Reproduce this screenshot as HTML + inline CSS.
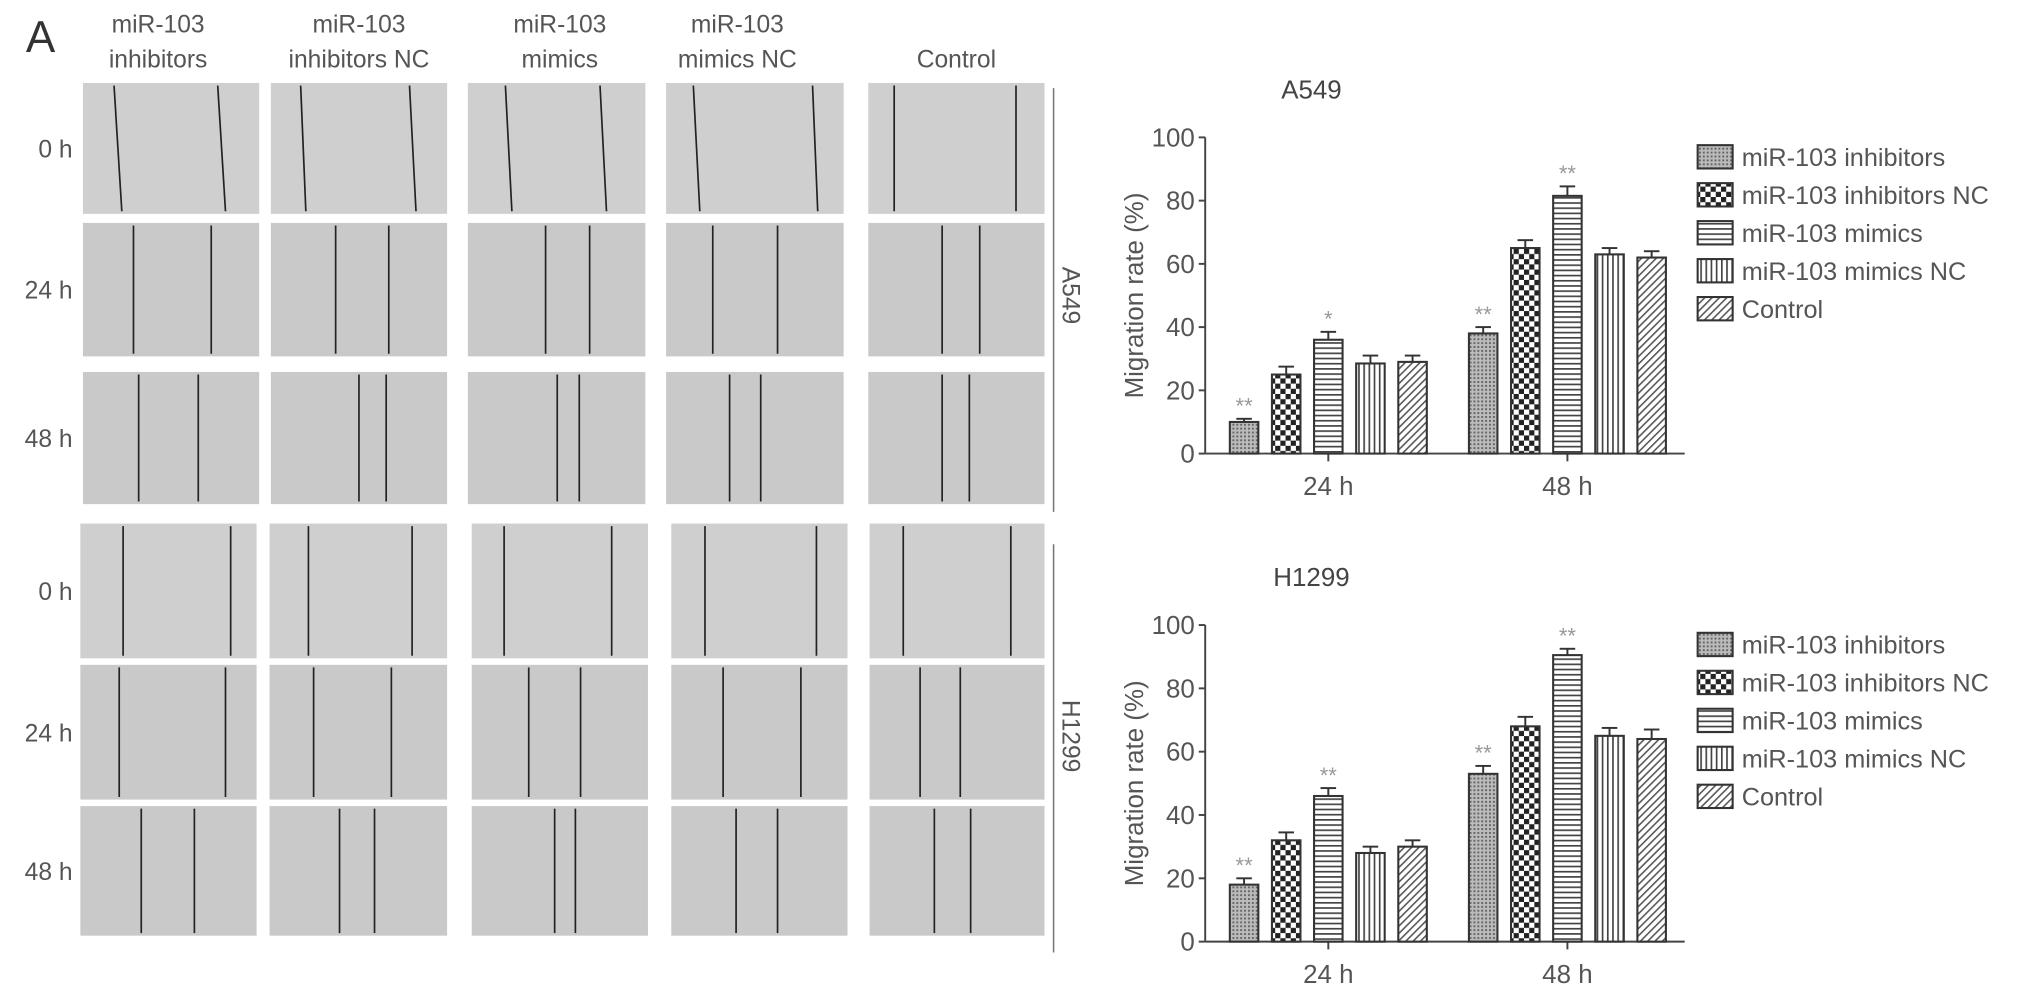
<!DOCTYPE html>
<html><head><meta charset="utf-8"><style>
html,body{margin:0;padding:0;background:#fff;}
svg{display:block;font-family:"Liberation Sans",sans-serif;}
</style></head><body>
<svg width="2032" height="994" viewBox="0 0 1568 767" xmlns="http://www.w3.org/2000/svg">
<defs>
<pattern id="p0" width="3" height="3" patternUnits="userSpaceOnUse"><rect width="3" height="3" fill="#bbb"/><rect width="1.5" height="1.5" fill="#666"/></pattern>
<pattern id="p1" width="8" height="8" patternUnits="userSpaceOnUse"><rect width="8" height="8" fill="#fff"/><rect width="4" height="4" fill="#222"/><rect x="4" y="4" width="4" height="4" fill="#222"/></pattern>
<pattern id="p2" width="4" height="4" patternUnits="userSpaceOnUse"><rect width="4" height="4" fill="#fff"/><rect width="4" height="1.3" fill="#444"/></pattern>
<pattern id="p3" width="4" height="4" patternUnits="userSpaceOnUse"><rect width="4" height="4" fill="#fff"/><rect width="1.3" height="4" fill="#444"/></pattern>
<pattern id="p4" width="4" height="4" patternUnits="userSpaceOnUse" patternTransform="rotate(45)"><rect width="4" height="4" fill="#fff"/><rect width="1.2" height="4" fill="#555"/></pattern>
</defs>
<text x="20" y="40" font-size="34" fill="#333">A</text>
<g id="micro"></g>
<g id="chartA"></g>
<g id="chartH"></g>
</svg>
<script>
const NS='http://www.w3.org/2000/svg';
function mk(p,tag,attrs,txt){const e=document.createElementNS(NS,tag);for(const k in attrs)e.setAttribute(k,attrs[k]);if(txt!=null)e.textContent=txt;p.appendChild(e);return e;}
// ---- microscopy grid ----
const colHeads=[["miR-103","inhibitors"],["miR-103","inhibitors NC"],["miR-103","mimics"],["miR-103","mimics NC"],["","Control"]];
const headX=[122,277,432,569,738];
const rowLabels=["0 h","24 h","48 h","0 h","24 h","48 h"];
const rowY=[[64,165],[172,275],[287,389],[404,508],[513,617],[622,722]];
const colXa=[[64,200],[209,345],[361,498],[514,651],[670,806]];
const colXb=[[62,198],[208,345],[364,500],[518,654],[671,806]];
const scratch=[
[[88,94,168,174],[232,236,316,321],[390,395,463,468],[535,540,627,631],[690,690,784,784]],
[[103,103,163,163],[259,259,300,300],[421,421,455,455],[550,550,600,600],[727,727,756,756]],
[[107,107,153,153],[277,277,298,298],[430,430,447,447],[563,563,587,587],[727,727,748,748]],
[[95,95,178,178],[238,238,318,318],[389,389,472,472],[544,544,630,630],[697,697,780,780]],
[[92,92,174,174],[242,242,302,302],[408,408,448,448],[558,558,618,618],[710,710,741,741]],
[[109,109,150,150],[262,262,289,289],[428,428,444,444],[568,568,600,600],[721,721,749,749]]];
const micro=document.getElementById('micro');
colHeads.forEach((h,i)=>{
  const t=mk(micro,'text',{x:headX[i],y:25,'font-size':19,fill:'#555','text-anchor':'middle'},h[0]);
  
  
  const t2=mk(micro,'text',{x:headX[i],y:52,'font-size':19,fill:'#555','text-anchor':'middle'},h[1]);
  
  
});
rowY.forEach((ry,r)=>{
  const cols=r<3?colXa:colXb;
  const lb=mk(micro,'text',{x:56,y:(ry[0]+ry[1])/2+7,'font-size':19,fill:'#555','text-anchor':'end'},rowLabels[r]);
  
  
  cols.forEach((c,i)=>{
    const rc=mk(micro,'rect',{x:c[0],y:ry[0],width:c[1]-c[0],height:ry[1]-ry[0],fill:(r===0||r===3)?'#cfcfcf':'#c9c9c9'});
    
    
    const s=scratch[r][i];
    mk(micro,'line',{x1:s[0],y1:ry[0]+2,x2:s[1],y2:ry[1]-2,stroke:'#222','stroke-width':1.3});
    mk(micro,'line',{x1:s[2],y1:ry[0]+2,x2:s[3],y2:ry[1]-2,stroke:'#222','stroke-width':1.3});
  });
});
mk(micro,'line',{x1:813,y1:68,x2:813,y2:395,stroke:'#777','stroke-width':1.2});
mk(micro,'line',{x1:813,y1:420,x2:813,y2:735,stroke:'#777','stroke-width':1.2});
const la=mk(micro,'text',{x:0,y:0,'font-size':19,fill:'#555','text-anchor':'middle',transform:'translate(820,228) rotate(90)'},'A549');


const lh=mk(micro,'text',{x:0,y:0,'font-size':19,fill:'#555','text-anchor':'middle',transform:'translate(820,568) rotate(90)'},'H1299');



// ---- chart data ----
const groups=["24 h","48 h"];
const seriesNames=["miR-103 inhibitors","miR-103 inhibitors NC","miR-103 mimics","miR-103 mimics NC","Control"];
const yTicks=[0,20,40,60,80,100];
const a549Values=[[10,25,36,28.5,29],[38,65,81.5,63,62]];
const a549Errors=[[1,2.5,2.5,2.5,2],[2,2.5,3,2,2]];
const a549Stars=[["**","","*","",""],["**","","**","",""]];
const h1299Values=[[18,32,46,28,30],[53,68,90.5,65,64]];
const h1299Errors=[[2,2.5,2.5,2,2],[2.5,3,2,2.5,3]];
const h1299Stars=[["**","","**","",""],["**","","**","",""]];

function drawChart(g,title,values,errors,stars,y0,y100){
  const ax=930, axEnd=1300;
  const y=v=>y0+(y100-y0)*v/100;
  const groupStart=[960,1144.5], step=32.5, bw=22;
  const t=mk(g,'text',{x:1012,y:y100-30,'font-size':20,fill:'#444','text-anchor':'middle'},title);
  
  
  const yt=mk(g,'text',{x:0,y:0,'font-size':20,fill:'#555','text-anchor':'middle',transform:`translate(882,${(y0+y100)/2}) rotate(-90)`},'Migration rate (%)');
  
  
  mk(g,'line',{x1:ax,y1:y(0),x2:ax,y2:y(100),stroke:'#444','stroke-width':1.5});
  mk(g,'line',{x1:ax,y1:y(0),x2:axEnd,y2:y(0),stroke:'#444','stroke-width':1.5});
  yTicks.forEach(v=>{
    mk(g,'line',{x1:ax-5,y1:y(v),x2:ax,y2:y(v),stroke:'#444','stroke-width':1.5});
    const tl=mk(g,'text',{x:ax-8,y:y(v)+7,'font-size':20,fill:'#555','text-anchor':'end'},String(v));
    
    
  });
  groups.forEach((gn,gi)=>{
    const cx=groupStart[gi]+2*step;
    mk(g,'line',{x1:cx,y1:y(0),x2:cx,y2:y(0)+6,stroke:'#444','stroke-width':1.5});
    const xl=mk(g,'text',{x:cx,y:y(0)+32,'font-size':20,fill:'#555','text-anchor':'middle'},gn);
    
    
    values[gi].forEach((v,si)=>{
      const bx=groupStart[gi]+si*step;
      const top=y(v+errors[gi][si]);
      mk(g,'line',{x1:bx,y1:y(v),x2:bx,y2:top,stroke:'#333','stroke-width':1.5});
      mk(g,'line',{x1:bx-6,y1:top,x2:bx+6,y2:top,stroke:'#333','stroke-width':1.5});
      const b=mk(g,'rect',{x:bx-bw/2,y:y(v),width:bw,height:y(0)-y(v),fill:`url(#p${si})`,stroke:'#333','stroke-width':1.6});
      
      
      if(stars[gi][si]){
        const st=mk(g,'text',{x:bx,y:top-4,'font-size':17,fill:'#999','text-anchor':'middle'},stars[gi][si]);
        
        
      }
    });
  });
  seriesNames.forEach((n,i)=>{
    const ly=y100+15+i*29.3;
    const sw=mk(g,'rect',{x:1310,y:ly-9,width:27,height:18,fill:`url(#p${i})`,stroke:'#333','stroke-width':1.6});
    
    
    const lt=mk(g,'text',{x:1344,y:ly+7,'font-size':19.5,fill:'#555'},n);
    
    
  });
}
drawChart(document.getElementById('chartA'),'A549',a549Values,a549Errors,a549Stars,350,106);
drawChart(document.getElementById('chartH'),'H1299',h1299Values,h1299Errors,h1299Stars,726.6,482.3);
</script>
</body></html>
